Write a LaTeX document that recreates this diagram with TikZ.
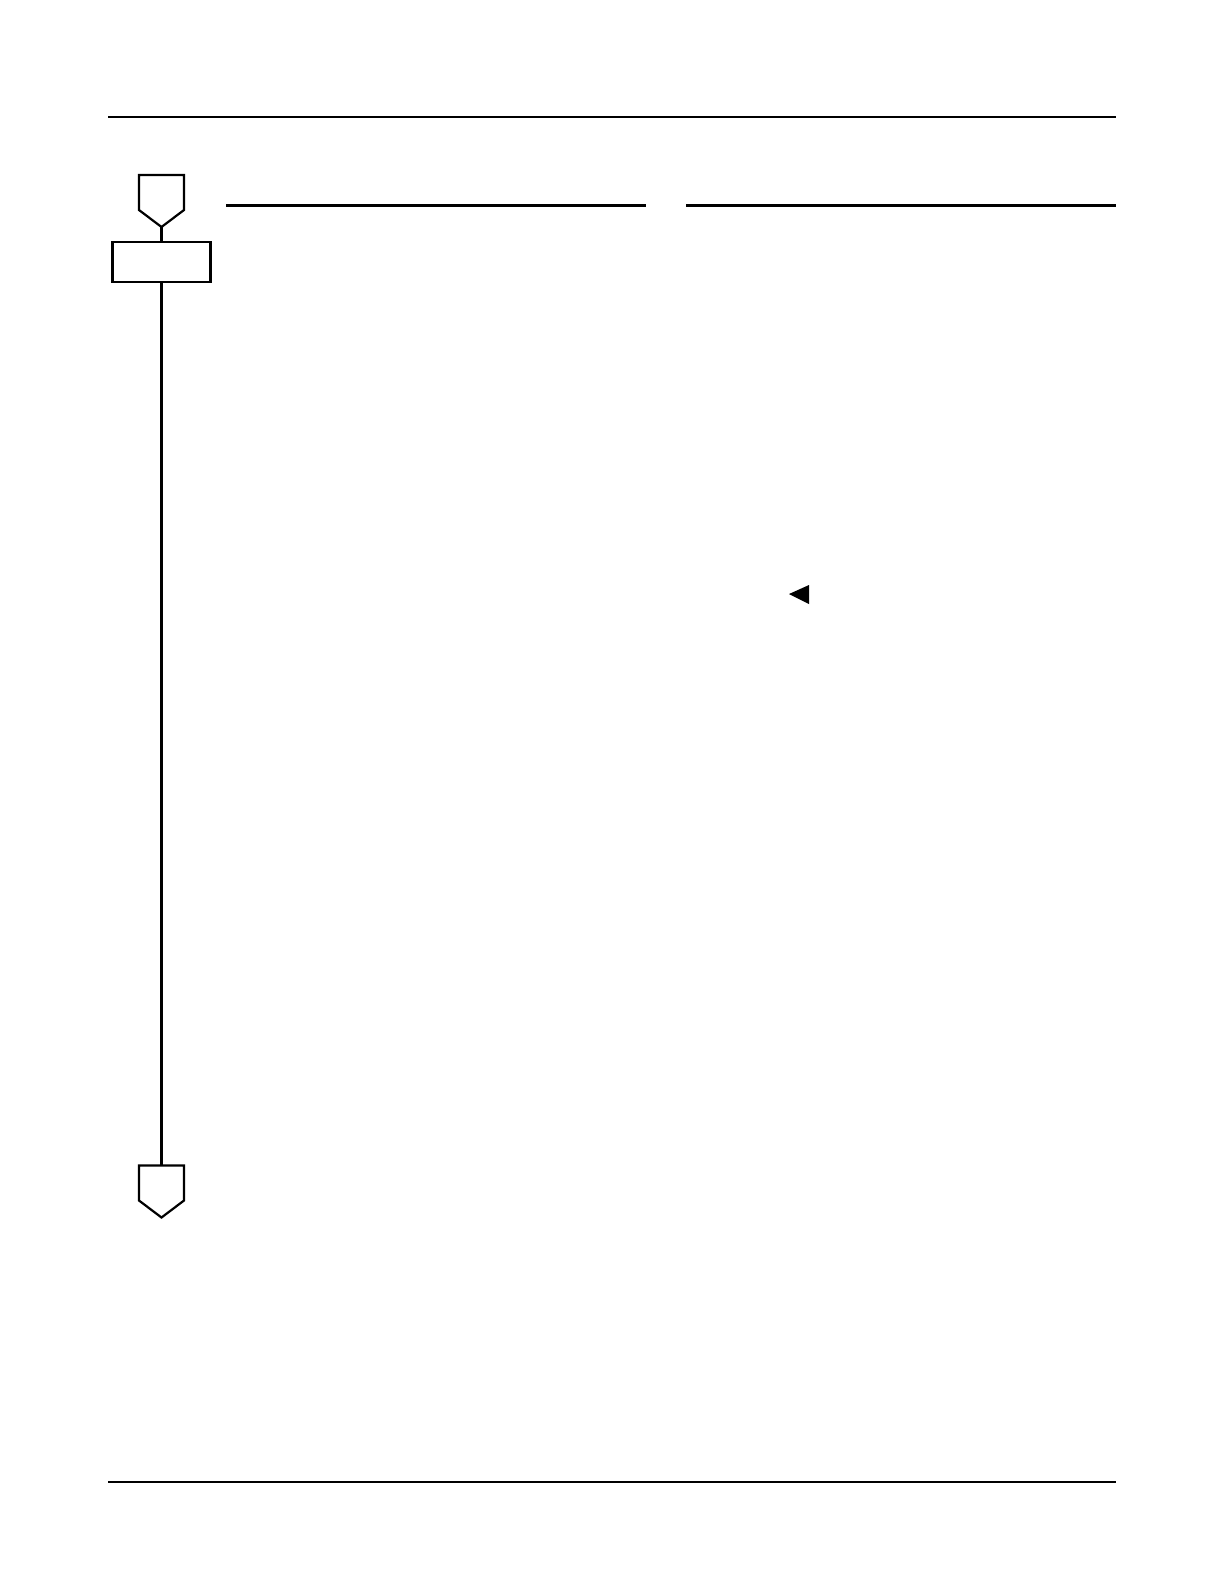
\documentclass[tikz,border=0pt]{standalone}
\usetikzlibrary{calc}
\begin{document}
\begin{tikzpicture}[x=0.5bp,y=-0.5bp,
  rule/.style={line width=1bp},
  headrule/.style={line width=1.5bp},
  shapeline/.style={line width=1.1bp, line join=miter},
  conn/.style={line width=1.1bp},
  pent/.style={draw=none, minimum width=22.5bp, minimum height=26bp, inner sep=0pt, outer sep=0pt},
  stepbox/.style={draw, line width=1.1bp, minimum width=49bp, minimum height=20bp, inner sep=0pt, outer sep=0pt}]
\useasboundingbox (0,0) rectangle (1224,1584);
% page rules
\draw[rule] (108,117) -- (1116,117);
\draw[rule] (108,1482) -- (1116,1482);
% column heading rules
\draw[headrule] (226,205) -- (646,205);
\draw[headrule] (686,205) -- (1116,205);
% top off-page connector
\node[pent] (inA) at (161.5,201) {};
\draw[shapeline] (inA.north west) -- (inA.north east) -- ($(inA.north east)+(0,35)$) -- (inA.south) -- ($(inA.north west)+(0,35)$) -- cycle;
% box
\node[stepbox] (box) at (161.5,262) {};
% bottom off-page connector
\node[pent] (outA) at (161.5,1191.5) {};
\draw[shapeline] (outA.north west) -- (outA.north east) -- ($(outA.north east)+(0,35)$) -- (outA.south) -- ($(outA.north west)+(0,35)$) -- cycle;
% connectors
\draw[conn] (inA.south) -- (box.north);
\draw[conn] (box.south) -- (outA.north);
% marker triangle
\fill (789,594) -- (809,585) -- (809,604) -- cycle;
\end{tikzpicture}
\end{document}
